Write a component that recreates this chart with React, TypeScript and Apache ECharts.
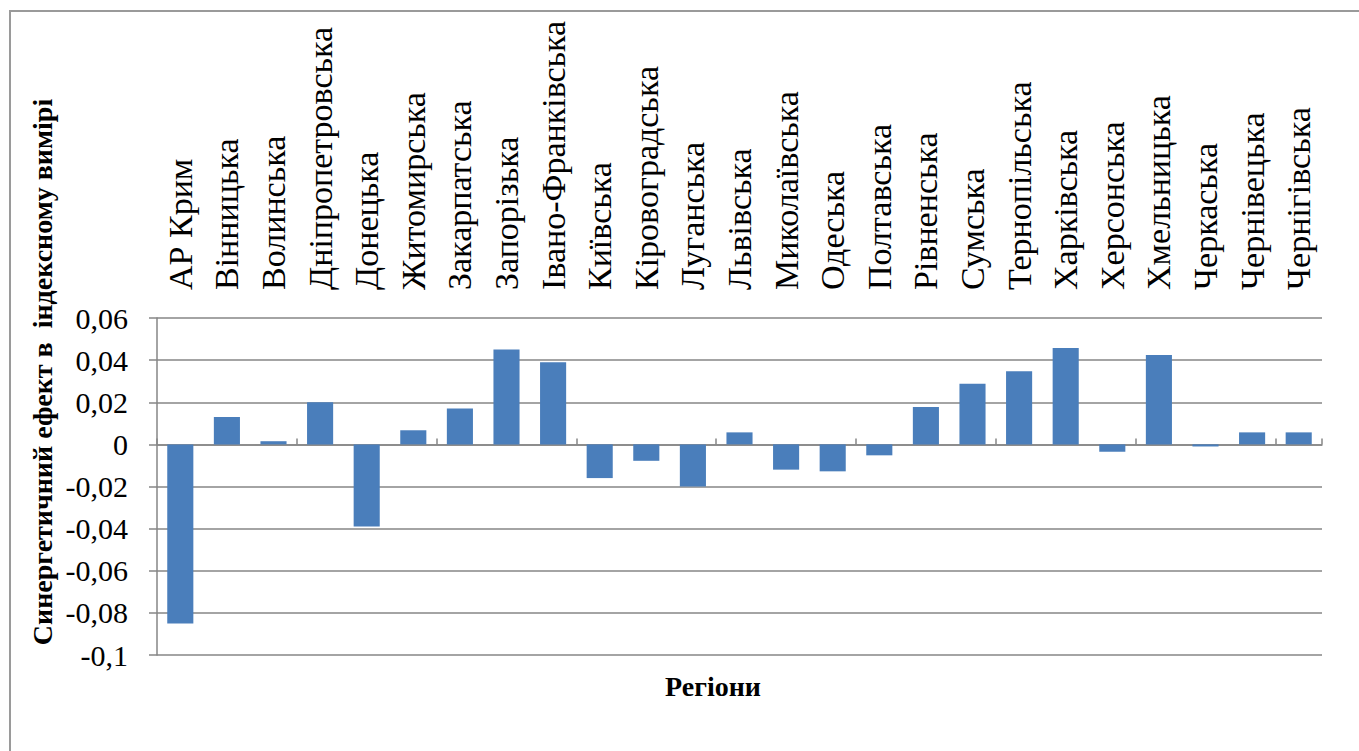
import React, { useEffect, useRef } from "react";
import * as echarts from "echarts";

const categories = [
  "АР Крим", "Вінницька", "Волинська", "Дніпропетровська", "Донецька", "Житомирська",
  "Закарпатська", "Запорізька", "Івано-Франківська", "Київська", "Кіровоградська",
  "Луганська", "Львівська", "Миколаївська", "Одеська", "Полтавська", "Рівненська",
  "Сумська", "Тернопільська", "Харківська", "Херсонська", "Хмельницька", "Черкаська",
  "Чернівецька", "Чернігівська",
];

const values = [
  -0.085, 0.013, 0.0015, 0.020, -0.039, 0.0067, 0.017, 0.045, 0.039, -0.016, -0.0078,
  -0.020, 0.0057, -0.012, -0.0128, -0.0052, 0.0177, 0.0288, 0.0347, 0.0458, -0.0035,
  0.0424, -0.001, 0.0057, 0.0057,
];

const yTitle = "Синергетичний ефект в  індексному вимірі";
const xTitle = "Регіони";

const SERIF = "Liberation Serif";

function fmt(v: number): string {
  const r = Math.round(v * 100) / 100;
  if (r === 0) return "0";
  let s = r.toFixed(2).replace(/0+$/, "").replace(/\.$/, "");
  return s.replace(".", ",");
}

export default function App() {
  const ref = useRef<HTMLDivElement>(null);
  useEffect(() => {
    const chart = echarts.init(ref.current!, null, { renderer: "svg" });
    chart.setOption({
      animation: false,
      backgroundColor: "#ffffff",
      grid: { left: 157, right: 37, top: 318, bottom: 96, containLabel: false },
      xAxis: [
        {
          type: "category",
          data: categories,
          position: "bottom",
          axisLine: { onZero: true, lineStyle: { color: "#868686", width: 1.5 } },
          axisTick: { show: true, inside: true, length: 6, lineStyle: { color: "#868686", width: 1.5 } },
          axisLabel: { show: false },
          splitLine: { show: false },
        },
        {
          type: "category",
          data: categories,
          position: "top",
          axisLine: { show: false },
          axisTick: { show: false },
          splitLine: { show: false },
          axisLabel: {
            show: true,
            rotate: -90,
            interval: 0,
            margin: 28,
            color: "#000000",
            fontFamily: SERIF,
            fontSize: 34,
          },
        },
      ],
      yAxis: {
        type: "value",
        min: -0.1,
        max: 0.06,
        interval: 0.02,
        axisLine: { show: true, lineStyle: { color: "#868686", width: 1.5 } },
        axisTick: { show: true, length: 8, lineStyle: { color: "#868686", width: 1.5 } },
        splitLine: { show: true, lineStyle: { color: "#868686", width: 1.5 } },
        axisLabel: {
          margin: 29,
          color: "#000000",
          fontFamily: SERIF,
          fontSize: 30,
          formatter: (v: number) => fmt(v),
        },
      },
      series: [
        {
          type: "bar",
          data: values,
          xAxisIndex: 0,
          barCategoryGap: "44%",
          itemStyle: { color: "#4A7EBB" },
        },
      ],
      graphic: [
        {
          type: "rect",
          shape: { x: 10, y: 11, width: 1400, height: 800 },
          style: { fill: "none", stroke: "#9a9a9a", lineWidth: 2 },
          silent: true,
        },
        {
          type: "text",
          x: 42,
          y: 372,
          rotation: Math.PI / 2,
          style: {
            text: yTitle,
            fontFamily: SERIF,
            fontWeight: "bold",
            fontSize: 28,
            fill: "#000000",
            align: "center",
            verticalAlign: "middle",
          },
        },
        {
          type: "text",
          x: 713,
          y: 686,
          style: {
            text: xTitle,
            fontFamily: SERIF,
            fontWeight: "bold",
            fontSize: 28,
            fill: "#000000",
            align: "center",
            verticalAlign: "middle",
          },
        },
      ],
    });
    return () => chart.dispose();
  }, []);
  return (
    <div
      ref={ref}
      style={{ position: "fixed", left: 0, top: 0, width: 1359, height: 751 }}
    />
  );
}
